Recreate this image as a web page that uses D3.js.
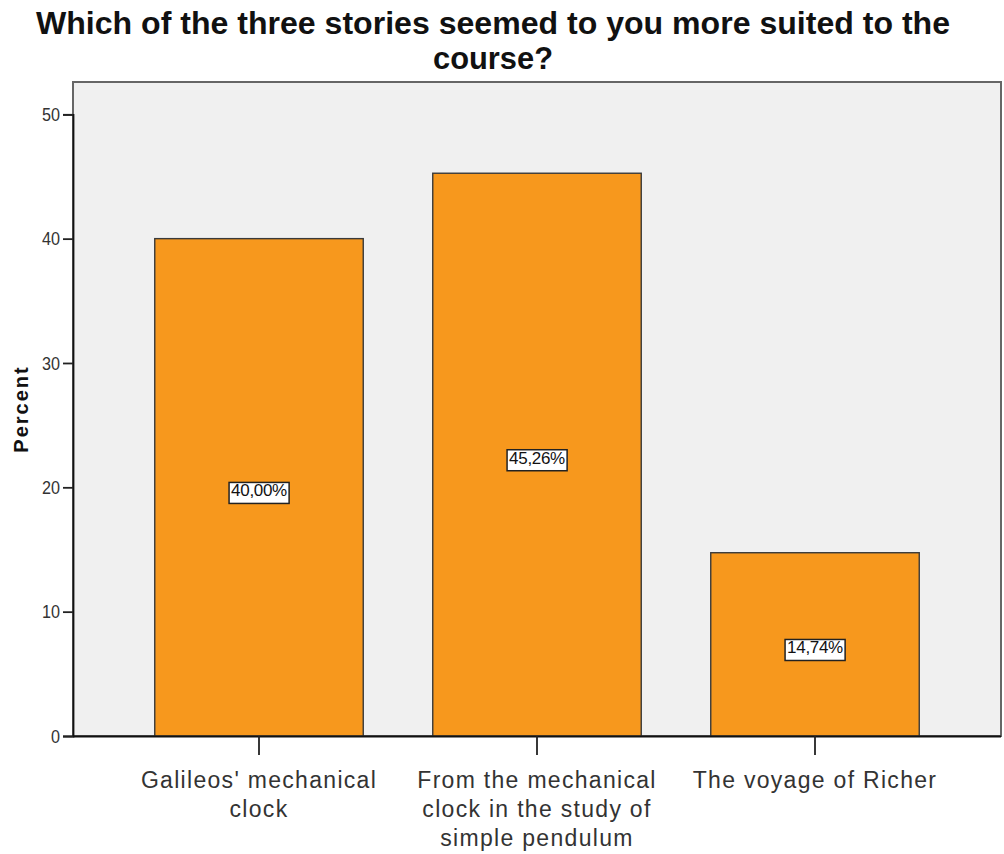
<!DOCTYPE html>
<html>
<head>
<meta charset="utf-8">
<script src="https://cdn.jsdelivr.net/npm/d3@7"></script>
<style>
  html, body { margin: 0; padding: 0; background: #fff; }
  svg { display: block; }
</style>
</head>
<body>
<div id="chart"></div>
<script>
// Survey: which story suited the course best (percent of respondents)
const categories = [
  ["Galileos' mechanical", "clock"],
  ["From the mechanical", "clock in the study of", "simple pendulum"],
  ["The voyage of Richer"]
];
const percents = [40.00, 45.26, 14.74];
const percentLabels = ["40,00%", "45,26%", "14,74%"];
const yTicks = [0, 10, 20, 30, 40, 50];
const titleLines = ["Which of the three stories seemed to you more suited to the", "course?"];
const yTitle = "Percent";

const W = 1004, H = 854;
const plot = { left: 73, right: 1001, top: 82, bottom: 736 };

const svg = d3.select("#chart").append("svg")
  .attr("width", W).attr("height", H)
  .style("font-family", "'Liberation Sans', Arial, sans-serif");

const x = d3.scaleBand()
  .domain(d3.range(categories.length))
  .range([120, 954])
  .paddingInner(0.25)
  .paddingOuter(0.125);

const y = d3.scaleLinear()
  .domain([0, 50])
  .range([plot.bottom, 114.3]);

// plot background + frame
svg.append("rect")
  .attr("x", plot.left).attr("y", plot.top)
  .attr("width", plot.right - plot.left).attr("height", plot.bottom - plot.top)
  .attr("fill", "#f0f0f0")
  .attr("stroke", "#666").attr("stroke-width", 2);

// bars
svg.append("g").selectAll("rect")
  .data(percents)
  .join("rect")
  .attr("x", (d, i) => x(i))
  .attr("width", x.bandwidth())
  .attr("y", d => y(d))
  .attr("height", d => y(0) - y(d))
  .attr("fill", "#f7981d")
  .attr("stroke", "#3a3a3a")
  .attr("stroke-width", 1.4);

// value labels
const lab = svg.append("g").selectAll("g")
  .data(percents)
  .join("g")
  .attr("transform", (d, i) => `translate(${x(i) + x.bandwidth() / 2},${(y(d) + y(0)) / 2 + 3})`);
lab.each(function(d, i) {
  const g = d3.select(this);
  const t = g.append("text")
    .attr("text-anchor", "middle")
    .attr("dy", "0.36em")
    .attr("font-size", 17)
    .attr("fill", "#111")
    .style("letter-spacing", "-0.3px")
    .text(percentLabels[i]);
  const bb = t.node().getBBox();
  g.insert("rect", "text")
    .attr("x", bb.x - 2).attr("y", bb.y + 1)
    .attr("width", bb.width + 4).attr("height", bb.height + 2)
    .attr("fill", "#fff")
    .attr("stroke", "#222").attr("stroke-width", 1.5);
});

// y axis
const yAxis = svg.append("g")
  .attr("transform", `translate(${plot.left},0)`)
  .call(d3.axisLeft(y).tickValues(yTicks).tickSize(10).tickPadding(3));
yAxis.select(".domain").attr("stroke", "#111").attr("stroke-width", 1.8);
yAxis.selectAll(".tick line").attr("stroke", "#222").attr("stroke-width", 1.8);
yAxis.selectAll(".tick text")
  .attr("font-size", 19).attr("fill", "#333")
  .attr("textLength", d => String(d).length * 9)
  .attr("lengthAdjust", "spacingAndGlyphs");

// x axis
const xAxis = svg.append("g")
  .attr("transform", `translate(0,${plot.bottom})`)
  .call(d3.axisBottom(x).tickSize(19).tickFormat(""));
xAxis.select(".domain").attr("d", `M${plot.left},0.5H${plot.right}`).attr("stroke", "#111").attr("stroke-width", 1.8);
xAxis.selectAll(".tick line").attr("stroke", "#222").attr("stroke-width", 1.8);
xAxis.selectAll(".tick").each(function(d) {
  const t = d3.select(this).append("text")
    .attr("text-anchor", "middle")
    .attr("fill", "#333")
    .attr("font-size", 23)
    .style("letter-spacing", "1.3px");
  categories[d].forEach((line, k) => {
    t.append("tspan").attr("x", 0).attr("y", 52 + k * 29).text(line);
  });
});

// y title
svg.append("text")
  .attr("transform", `translate(28,409) rotate(-90)`)
  .attr("text-anchor", "middle")
  .attr("font-size", 20)
  .attr("font-weight", "bold")
  .attr("fill", "#111")
  .style("letter-spacing", "2px")
  .text(yTitle);

// chart title
const title = svg.append("text")
  .attr("text-anchor", "middle")
  .attr("font-size", 31)
  .attr("font-weight", "bold")
  .attr("fill", "#111");
titleLines.forEach((line, k) => {
  const ts = title.append("tspan").attr("x", 493).attr("y", 34 + k * 35).text(line);
  if (k === 0) ts.attr("textLength", 914).attr("lengthAdjust", "spacingAndGlyphs");
  else ts.attr("textLength", 120).attr("lengthAdjust", "spacingAndGlyphs");
});
</script>
</body>
</html>
